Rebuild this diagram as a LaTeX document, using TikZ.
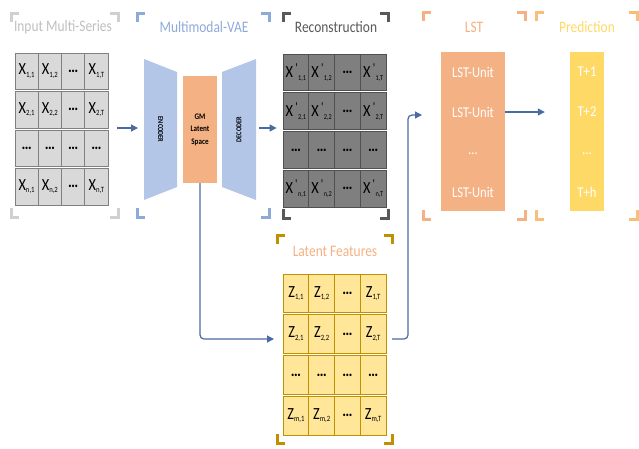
\documentclass[tikz,border=0pt]{standalone}
\usepackage{fontspec}
\setmainfont{Carlito}[FakeStretch=0.84]
\usetikzlibrary{arrows.meta}

\definecolor{inBr}{HTML}{D0D0D0}
\definecolor{inTitle}{HTML}{BFBFBF}
\definecolor{inFill}{HTML}{D9D9D9}
\definecolor{inLine}{HTML}{808080}
\definecolor{vaeBlue}{HTML}{8EAADB}
\definecolor{vaeFill}{HTML}{B4C6E7}
\definecolor{gmFill}{HTML}{F4B183}
\definecolor{recBr}{HTML}{595959}
\definecolor{recFill}{HTML}{7F7F7F}
\definecolor{recLine}{HTML}{505050}
\definecolor{latBr}{HTML}{BF9000}
\definecolor{latFill}{HTML}{FFE699}
\definecolor{latLine}{HTML}{BF9000}
\definecolor{lstC}{HTML}{F4B183}
\definecolor{predC}{HTML}{FFD966}
\definecolor{predBr}{HTML}{F8BF7A}
\definecolor{arrC}{HTML}{4A6AA5}

% cell label helpers
\newcommand\xs[2]{#1\raisebox{-2.5pt}{\fontsize{8}{8}\selectfont #2}}
\newcommand\xp[1]{X\raisebox{5pt}{\fontsize{13}{13}\selectfont\,\textquotesingle}\raisebox{-3pt}{\fontsize{7.5}{8}\selectfont #1}}
\newcommand\dd{\textbf{\ldots}}

% corner brackets round a block: x1,y1,x2,y2,colour
\newcommand\brk[5]{%
  \draw[#5, line width=3pt, line join=miter] (#1,#2+9) -- (#1,#2) -- (#1+8,#2);
  \draw[#5, line width=3pt, line join=miter] (#3,#2+9) -- (#3,#2) -- (#3-8,#2);
  \draw[#5, line width=3pt, line join=miter] (#1,#4-9) -- (#1,#4) -- (#1+8,#4);
  \draw[#5, line width=3pt, line join=miter] (#3,#4-9) -- (#3,#4) -- (#3-8,#4);}

\tikzset{
  title/.style={font=\fontsize{16}{16}\selectfont, inner sep=0},
  cellbox/.style={draw, line width=0.8pt, inner sep=0, font=\fontsize{17}{17}\selectfont},
  incell/.style={cellbox, fill=inFill, draw=inLine, minimum width=23.25, minimum height=36.5},
  reccell/.style={cellbox, fill=recFill, draw=recLine, minimum width=25.75, minimum height=36.75},
  latcell/.style={cellbox, fill=latFill, draw=latLine, minimum width=25.75, minimum height=38.75},
  arr/.style={draw=arrC, line width=1.2pt, -{Triangle[length=7pt,width=7pt]}},
  link/.style={arr, rounded corners=4pt},
  bigtxt/.style={font=\fontsize{15}{15}\selectfont, text=white, inner sep=0},
}

\begin{document}
\begin{tikzpicture}[x=1pt, y=-1pt]
\useasboundingbox (0,0) rectangle (639,448);

% ---------- Input Multi-Series ----------
\brk{11}{13}{118}{217}{inBr}
\node[title, text=inTitle] (tIn) at (63,27) {Input Multi-Series};
\foreach \t [count=\c] in {{\xs{X}{1,1}},{\xs{X}{1,2}},{\dd},{\xs{X}{1,T}}}
  \node[incell] (in-1-\c) at ({26.6+(\c-1)*23.25},71.25) {\t};
\foreach \t [count=\c] in {{\xs{X}{2,1}},{\xs{X}{2,2}},{\dd},{\xs{X}{2,T}}}
  \node[incell] (in-2-\c) at ({26.6+(\c-1)*23.25},109.75) {\t};
\foreach \t [count=\c] in {{\dd},{\dd},{\dd},{\dd}}
  \node[incell] (in-3-\c) at ({26.6+(\c-1)*23.25},148.25) {\t};
\foreach \t [count=\c] in {{\xs{X}{n,1}},{\xs{X}{n,2}},{\dd},{\xs{X}{n,T}}}
  \node[incell] (in-4-\c) at ({26.6+(\c-1)*23.25},186.75) {\t};

% ---------- Multimodal-VAE ----------
\brk{137}{13}{269}{217}{vaeBlue}
\node[title, text=vaeBlue] (tVae) at (204,27) {Multimodal-VAE};
\fill[vaeFill] (144,59) -- (177,72) -- (177,187) -- (144,200) -- cycle;
\node[rotate=-90, font=\bfseries\fontsize{7.5}{8}\selectfont, inner sep=0] (enc) at (160.5,129.5) {ENCODER};
\fill[vaeFill] (222,72) -- (256,59) -- (256,200) -- (222,187) -- cycle;
\node[rotate=90, font=\bfseries\fontsize{7.5}{8}\selectfont, inner sep=0] (dec) at (239,129.5) {DECODER};
\node[fill=gmFill, minimum width=34, minimum height=107, inner sep=0, align=center,
      font=\bfseries\fontsize{8.5}{12.5}\selectfont] (gm) at (200,129.5) {GM\\Latent\\Space};
\coordinate (encW) at (144,128);
\coordinate (decE) at (256,128);

% ---------- Reconstruction ----------
\brk{283}{13}{388}{218}{recBr}
\node[title, text=recBr] (tRec) at (336,27) {Reconstruction};
\foreach \t [count=\c] in {{\xp{1,1}},{\xp{1,2}},{\dd},{\xp{1,T}}}
  \node[reccell] (rec-1-\c) at ({295.9+(\c-1)*25.75},72.4) {\t};
\foreach \t [count=\c] in {{\xp{2,1}},{\xp{2,2}},{\dd},{\xp{2,T}}}
  \node[reccell] (rec-2-\c) at ({295.9+(\c-1)*25.75},111.1) {\t};
\foreach \t [count=\c] in {{\dd},{\dd},{\dd},{\dd}}
  \node[reccell] (rec-3-\c) at ({295.9+(\c-1)*25.75},149.9) {\t};
\foreach \t [count=\c] in {{\xp{n,1}},{\xp{n,2}},{\dd},{\xp{n,T}}}
  \node[reccell] (rec-4-\c) at ({295.9+(\c-1)*25.75},188.6) {\t};

% ---------- Latent Features ----------
\brk{277}{235}{392}{443}{latBr}
\node[title, text=lstC] (tLat) at (335,251) {Latent Features};
\foreach \t [count=\c] in {{\xs{Z}{1,1}},{\xs{Z}{1,2}},{\dd},{\xs{Z}{1,T}}}
  \node[latcell] (lat-1-\c) at ({295.9+(\c-1)*25.75},293.4) {\t};
\foreach \t [count=\c] in {{\xs{Z}{2,1}},{\xs{Z}{2,2}},{\dd},{\xs{Z}{2,T}}}
  \node[latcell] (lat-2-\c) at ({295.9+(\c-1)*25.75},334.1) {\t};
\foreach \t [count=\c] in {{\dd},{\dd},{\dd},{\dd}}
  \node[latcell] (lat-3-\c) at ({295.9+(\c-1)*25.75},374.9) {\t};
\foreach \t [count=\c] in {{\xs{Z}{m,1}},{\xs{Z}{m,2}},{\dd},{\xs{Z}{m,T}}}
  \node[latcell] (lat-4-\c) at ({295.9+(\c-1)*25.75},415.6) {\t};
\coordinate (latIn) at (277,339);
\coordinate (latOut) at (392,339);

% ---------- LST ----------
\brk{423}{12}{525}{219}{lstC}
\node[title, text=lstC] (tLst) at (474,27) {LST};
\node[fill=lstC, minimum width=64, minimum height=159, inner sep=0] (lst) at (473,131.5) {};
\node[bigtxt] (u1) at (473,72) {LST-Unit};
\node[bigtxt] (u2) at (473,112) {LST-Unit};
\node[bigtxt] (u3) at (473,154) {\ldots};
\node[bigtxt] (u4) at (473,192) {LST-Unit};
\coordinate (lstIn) at (422,115);
\coordinate (bend) at (408,115);

% ---------- Prediction ----------
\brk{536}{12}{637}{219}{predBr}
\node[title, text=predC] (tPred) at (587,27) {Prediction};
\node[fill=predC, minimum width=34, minimum height=159, inner sep=0] (pred) at (587,131.5) {};
\node[bigtxt] (p1) at (587,72) {T+1};
\node[bigtxt] (p2) at (587,112) {T+2};
\node[bigtxt] (p3) at (587,154) {\ldots};
\node[bigtxt] (p4) at (587,192) {T+h};

% ---------- connectors ----------
\draw[arr, shorten <=9pt, shorten >=6pt] (in-2-4.east |- encW) -- (encW);
\draw[arr, shorten <=3pt, shorten >=6pt] (decE) -- (rec-2-1.west |- decE);
\draw[link, shorten >=3pt] (gm.south) |- (latIn);
\draw[link] (latOut) -| (bend) -- (lstIn);
\draw[arr, shorten >=25pt] (u2.east -| lst.east) -- (u2.east -| pred.west);
\end{tikzpicture}
\end{document}
